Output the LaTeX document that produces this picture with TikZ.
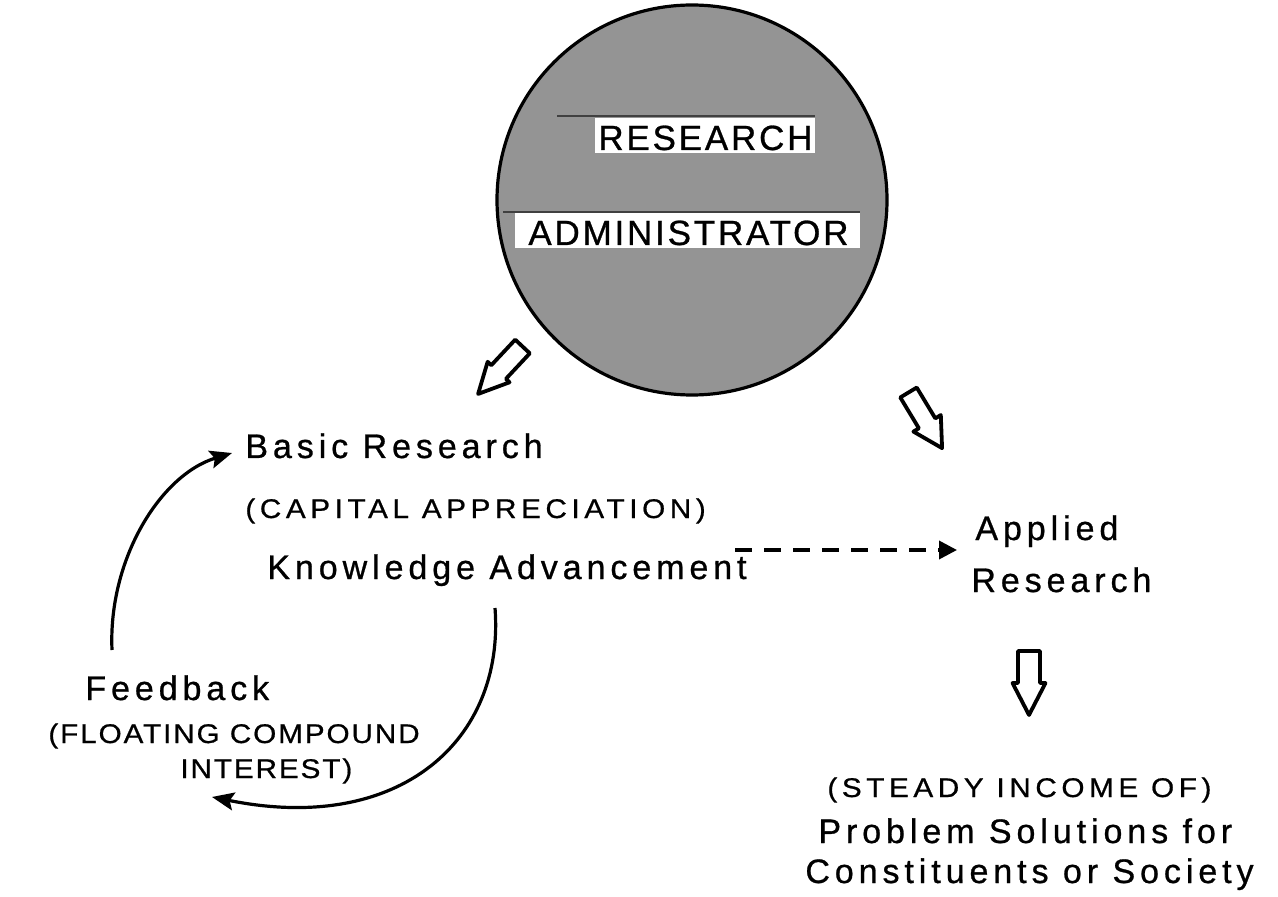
\documentclass[tikz,border=0pt]{standalone}
\usepackage{fontspec}
\setmainfont{Liberation Sans}
% letter-spaced faces for the widely tracked lettering
\newfontfamily\bodyface[LetterSpace=14.5,FakeBold=0.8]{Liberation Sans}
\newfontfamily\capsface[LetterSpace=17,FakeStretch=1.1,FakeBold=0.7]{Liberation Sans}
\newfontfamily\capsfacen[LetterSpace=7,FakeStretch=1.1,FakeBold=0.7]{Liberation Sans}
\newfontfamily\titleface[LetterSpace=8,FakeBold=0.8]{Liberation Sans}
\usetikzlibrary{arrows.meta}

\tikzset{
  pics/blockarrow/.style n args={4}{code={
    % #1 shaft length, #2 head length, #3 shaft half width, #4 head half width
    \draw[line width=1.9pt, line join=round, fill=white]
      (0,-#3) -- (#1,-#3) -- (#1,-#4) -- ({#1+#2},0) -- (#1,#4) -- (#1,#3) -- (0,#3) -- cycle;
  }}
}

\begin{document}
\begin{tikzpicture}[x=0.5pt,y=-0.5pt,
  lbl/.style={inner sep=0pt, anchor=base west, font=\bodyface\fontsize{17}{20}\selectfont},
  capslbl/.style={inner sep=0pt, anchor=base west, font=\capsface\fontsize{13.5}{15}\selectfont},
  capslbln/.style={inner sep=0pt, anchor=base west, font=\capsfacen\fontsize{13.5}{15}\selectfont},
  titlelbl/.style={inner sep=0pt, anchor=base west, font=\titleface\fontsize{17.5}{20}\selectfont},
  looparrow/.style={line width=1.6pt, -{Stealth[length=11pt,width=9pt,inset=2pt]}},
  dasharrow/.style={line width=1.8pt, dash pattern=on 8.5pt off 6pt, -{Triangle[length=9pt,width=9pt]}}
]
\useasboundingbox (0,0) rectangle (1278,897);

% the administrator disc
\node (disc) [circle, fill=black!42, draw=black, line width=1.6pt,
  minimum size=195pt, inner sep=0pt] at (692,200) {};

% white label strips across the disc
\fill[white] (595,118) rectangle (815,153);
\fill[white] (515,213) rectangle (860,248);
\draw[black!75, line width=0.8pt] (557,116) -- (815,116);
\draw[black!75, line width=0.8pt] (503,212) -- (860,212);
\node (research) [titlelbl] at (598,150) {RESEARCH};
\node (admin) [titlelbl] at (528,245) {ADMINISTRATOR};

% text blocks
\node (basic) [lbl] at (245,458) {Basic Research};
\node (capital) [capslbl] at (245,518) {(CAPITAL APPRECIATION)};
\node (knowledge) [lbl] at (267,579) {Knowledge Advancement};
\node (applied) [lbl] at (975,540) {Applied};
\node (applres) [lbl] at (971,592) {Research};
\node (feedback) [lbl] at (85,700) {Feedback};
\node (floating) [capslbln] at (48,743) {(FLOATING COMPOUND};
\node (interest) [capslbln] at (180,778) {INTEREST)};
\node (steady) [capslbl] at (827,797) {(STEADY INCOME OF)};
\node (problem) [lbl] at (818,843) {Problem Solutions for};
\node (society) [lbl] at (805,883) {Constituents or Society};

% hollow block arrows
\pic[rotate=226.9] at (522.5,346.5) {blockarrow={35}{30}{10}{15}};
\pic[rotate=-58.9] at (908.5,392.5) {blockarrow={36}{29}{9.6}{16}};
\pic[rotate=-90] at (1029,651) {blockarrow={32}{32}{11}{16.5}};

% dashed transfer arrow
\coordinate (dashstart) at (735,550);
\coordinate (dashend) at (957,550);
\draw[dasharrow] (dashstart) -- (dashend);

% feedback loop
\coordinate (fbtop) at (112,650);
\coordinate (basictip) at (232,453);
\coordinate (kadown) at (495,608);
\coordinate (fbtip) at (212,797);
\draw[looparrow] (fbtop) .. controls (108,560) and (160,475) .. (basictip);
\draw[looparrow] (kadown) .. controls (505,740) and (400,835) .. (fbtip);
\end{tikzpicture}
\end{document}
